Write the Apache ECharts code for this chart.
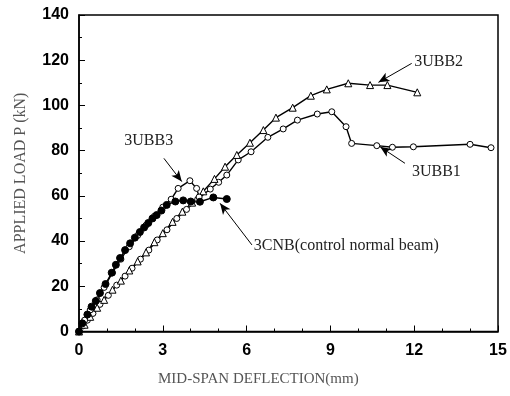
<!DOCTYPE html>
<html><head><meta charset="utf-8">
<script src="https://cdn.jsdelivr.net/npm/echarts@6/dist/echarts.min.js"></script>
<style>html,body{margin:0;padding:0;background:#fff}#c{width:510px;height:396px}</style>
</head><body><div id="c"></div>
<script>
// Data (deflection mm, load kN)
const xTicks = [0, 3, 6, 9, 12, 15];
const yTicks = [0, 20, 40, 60, 80, 100, 120, 140];
const ubb1X = [0,0.15,0.3,0.5,0.75,1.05,1.35,1.65,1.9,2.2,2.5,2.8,3.15,3.5,3.85,4.25,4.7,5.0,5.29,5.7,6.16,6.76,7.31,7.82,8.53,9.05,9.56,9.76,10.66,11.22,11.97,14.0,14.75];
const ubb1Y = [0,2.5,5,8,12,16,20.5,24.5,28,32,36,40.5,45,50,54,58.5,63,66,69.2,75.9,79.5,85.9,89.6,93.5,96.2,97.2,90.6,83.2,82.2,81.5,81.7,82.8,81.3];
const ubb2X = [0,0.2,0.4,0.65,0.9,1.2,1.5,1.8,2.1,2.4,2.7,3.0,3.35,3.7,4.05,4.45,4.85,5.23,5.65,6.12,6.6,7.05,7.65,8.3,8.87,9.64,10.42,11.04,12.11];
const ubb2Y = [0,3,6.5,10.5,14,18.5,22.5,27,31,35,39.5,43.5,48.5,53,57,62,67.5,72.9,78.1,83.5,89.1,94.6,99,104.3,107.1,109.8,109,109,105.8];
const ubb3X = [0,0.2,0.4,0.65,0.9,1.2,1.5,1.8,2.1,2.4,2.7,3.0,3.3,3.55,3.97,4.21,4.3];
const ubb3Y = [0,5,9.5,14,19.5,26,32,37.5,42.5,47,51,55,58.5,63.3,66.7,63.3,59.5];
const cnbX = [0,0.12,0.3,0.45,0.6,0.75,0.95,1.17,1.32,1.47,1.65,1.83,2.0,2.18,2.33,2.48,2.63,2.78,2.95,3.14,3.45,3.73,4.0,4.33,4.81,5.29];
const cnbY = [0,3.6,7.5,11,13.5,17,21,26,29.5,32.5,36,39,41.5,44,46,48,50,51.5,53.5,56,57.5,58,57.5,57.4,59.3,58.6];
// Annotations: [text, textX, textY, arrowFromX, arrowFromY, arrowToX, arrowToY]
const notes = [
  ['3UBB2', 12.0, 119, 11.91, 118.6, 10.72, 110.2],
  ['3UBB1', 11.92, 70, 11.67, 74.4, 10.78, 81.7],
  ['3UBB3', 1.62, 84, 3.04, 76.6, 3.68, 66.3],
  ['3CNB(control normal beam)', 6.26, 37.6, 6.19, 38.3, 5.05, 56.7]
];

const zip = (a, b) => a.map((v, i) => [v, b[i]]);
const serif = '"Liberation Serif","DejaVu Serif",serif';
const chart = echarts.init(document.getElementById('c'));
const lineBase = {type: 'line', lineStyle: {color: '#000', width: 1.4}, symbolSize: 6, animation: false, z: 3};
const open = {color: '#fff', borderColor: '#000', borderWidth: 1};
const tickFont = {color: '#000', fontWeight: 'bold', fontSize: 16, fontFamily: '"Liberation Sans",Arial,sans-serif'};
chart.setOption({
  animation: false,
  grid: {left: 79, right: 12, top: 15, bottom: 64.5, show: true, borderColor: '#000', borderWidth: 1.5, backgroundColor: 'transparent'},
  xAxis: {type: 'value', min: 0, max: 15, interval: 3,
    axisLine: {show: true, lineStyle: {color: '#000', width: 1.5}},
    axisTick: {inside: true, length: 6, lineStyle: {color: '#000'}},
    minorTick: {show: true, splitNumber: 3, length: 3, lineStyle: {color: '#000'}},
    splitLine: {show: false},
    axisLabel: Object.assign({margin: 11, formatter: v => xTicks.includes(v) ? String(v) : ''}, tickFont)
  },
  yAxis: {type: 'value', min: 0, max: 140, interval: 20,
    name: 'APPLIED LOAD P (kN)', nameLocation: 'middle', nameGap: 50, nameRotate: 90,
    nameTextStyle: {fontFamily: serif, fontSize: 16, color: '#555'},
    axisLine: {show: true, lineStyle: {color: '#000', width: 1.5}},
    axisTick: {inside: true, length: 6, lineStyle: {color: '#000'}},
    minorTick: {show: true, splitNumber: 2, length: 3, lineStyle: {color: '#000'}},
    splitLine: {show: false},
    axisLabel: Object.assign({margin: 10, formatter: v => yTicks.includes(v) ? String(v) : ''}, tickFont)
  },
  series: [
    Object.assign({}, lineBase, {name: '3UBB1', data: zip(ubb1X, ubb1Y), symbol: 'circle', itemStyle: open}),
    Object.assign({}, lineBase, {name: '3UBB2', data: zip(ubb2X, ubb2Y), symbol: 'triangle', symbolSize: 7, itemStyle: open}),
    Object.assign({}, lineBase, {name: '3UBB3', data: zip(ubb3X, ubb3Y), symbol: 'circle', itemStyle: open}),
    Object.assign({}, lineBase, {name: '3CNB', data: zip(cnbX, cnbY), symbol: 'circle', symbolSize: 7, itemStyle: {color: '#000', borderColor: '#000'}}),
    {type: 'line', data: [], markLine: {silent: true, animation: false, symbol: ['none', 'arrow'], symbolSize: [7, 11],
      lineStyle: {color: '#000', width: 1, type: 'solid'}, label: {show: false},
      data: notes.map(n => [{coord: [n[3], n[4]]}, {coord: [n[5], n[6]]}])}}
  ]
});
const g = notes.map(n => {
  const p = chart.convertToPixel({gridIndex: 0}, [n[1], n[2]]);
  return {type: 'text', left: p[0], top: p[1] - 9, style: {text: n[0], font: '16px ' + serif, fill: '#222'}, z: 10};
});
g.push({type: 'text', left: 158, top: 372, style: {text: 'MID-SPAN DEFLECTION(mm)', font: '15px ' + serif, fill: '#555'}});
chart.setOption({graphic: g});
</script></body></html>
